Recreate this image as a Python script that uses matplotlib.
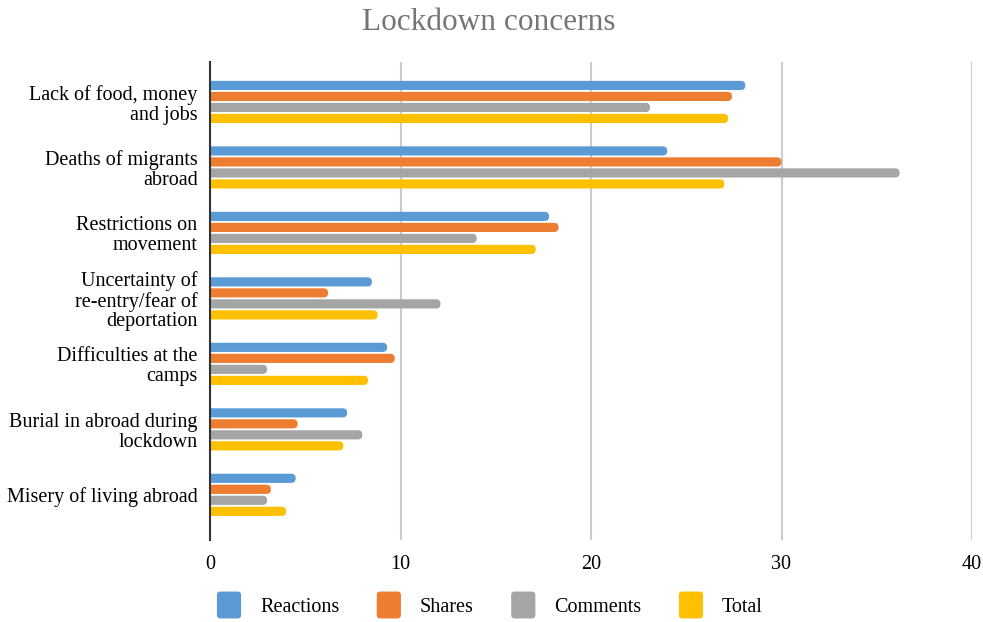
import matplotlib
matplotlib.use("Agg")
import matplotlib.pyplot as plt
from matplotlib.patches import FancyBboxPatch, Patch
from matplotlib.legend_handler import HandlerPatch
import numpy as np

categories = ["Lack of food, money\nand jobs", "Deaths of migrants\nabroad",
              "Restrictions on\nmovement", "Uncertainty of\nre-entry/fear of\ndeportation",
              "Difficulties at the\ncamps", "Burial in abroad during\nlockdown",
              "Misery of living abroad"]
reactions = [28.1, 24.0, 17.8, 8.5, 9.3, 7.2, 4.5]
shares = [27.4, 30.0, 18.3, 6.2, 9.7, 4.6, 3.2]
comments = [23.1, 36.2, 14.0, 12.1, 3.0, 8.0, 3.0]
total = [27.2, 27.0, 17.1, 8.8, 8.3, 7.0, 4.0]
series_names = ["Reactions", "Shares", "Comments", "Total"]
colors = ["#5B9BD5", "#ED7D31", "#A5A5A5", "#FFC000"]

plt.rcParams['font.family'] = ['Liberation Serif', 'DejaVu Serif']

fig = plt.figure(figsize=(9.83, 6.22), dpi=100)
ax = fig.add_axes([210/983, 1-540/622, (972-210)/983, (540-62)/622])

ax.set_xlim(0, 40)
ax.set_ylim(6.69, -0.61)

y = np.arange(len(categories))
step = 0.168
h = 0.14
r = 0.236
aspect = 0.291
handles = []
for i, (vals, name, c) in enumerate(zip([reactions, shares, comments, total], series_names, colors)):
    for yc, v in zip(y + (i - 1.5) * step, vals):
        p = FancyBboxPatch((-0.5, yc - h / 2), v + 0.5, h,
                           boxstyle=f"round,pad=0,rounding_size={r}",
                           mutation_aspect=aspect, facecolor=c, edgecolor='none', zorder=3)
        ax.add_patch(p)
    handles.append(Patch(facecolor=c, edgecolor='none', label=name))

ax.set_xticks([0, 10, 20, 30, 40])
ax.set_yticks(y)
ax.set_yticklabels(categories, fontsize=14.5, linespacing=1.05)
ax.tick_params(axis='x', labelsize=14.5, length=0, pad=11)
ax.tick_params(axis='y', length=0, pad=9)
ax.grid(axis='x', color='#cccccc', linewidth=1.5, zorder=0)
for s in ['top', 'right', 'bottom']:
    ax.spines[s].set_visible(False)
ax.spines['left'].set_color('#333333')
ax.spines['left'].set_linewidth(1.5)
ax.spines['left'].set_zorder(4)

fig.text(489/983, 1-22/622, "Lockdown concerns", fontsize=22.5, color='#757575',
         ha='center', va='center')


def rounded(legend, orig_handle, xdescent, ydescent, width, height, fontsize):
    return FancyBboxPatch((-xdescent, -ydescent), width, height,
                          boxstyle="round,pad=0,rounding_size=2.5")


leg = fig.legend(handles=handles, loc='center', bbox_to_anchor=(490/983, 1-605/622), ncol=4,
                 frameon=False, fontsize=14.5, handlelength=1.2, handleheight=1.68,
                 handletextpad=0.95, columnspacing=1.85,
                 handler_map={Patch: HandlerPatch(patch_func=rounded)})

fig.savefig("out.png", dpi=100)
